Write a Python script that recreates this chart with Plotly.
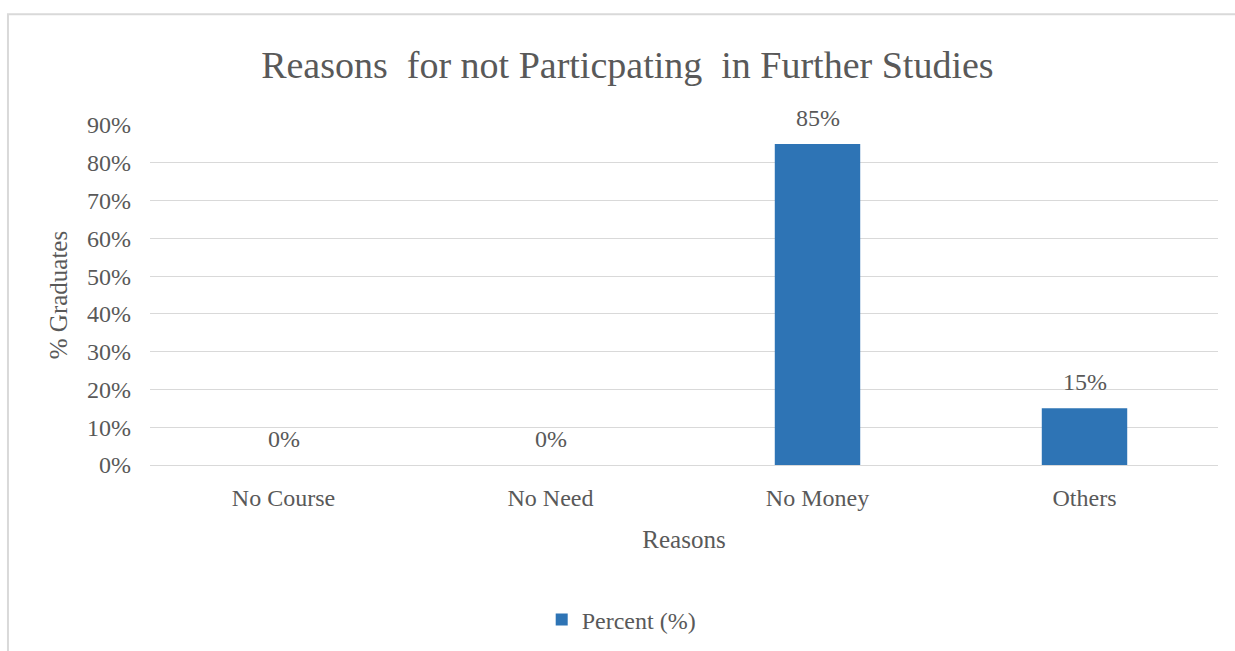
import plotly.graph_objects as go

# Survey results
reasons = ["No Course", "No Need", "No Money", "Others"]
percent = [0.0, 0.0, 0.85, 0.15]
value_labels = ["0%", "0%", "85%", "15%"]
y_ticks = [0, 0.1, 0.2, 0.3, 0.4, 0.5, 0.6, 0.7, 0.8, 0.9]
y_tick_labels = ["0%", "10%", "20%", "30%", "40%", "50%", "60%", "70%", "80%", "90%"]

FONT = "Liberation Serif"
TEXT = "#595959"
GRID = "#d9d9d9"
BAR = "#2E74B5"

fig = go.Figure()
fig.add_trace(go.Bar(
    x=reasons,
    y=percent,
    name="Percent (%)",
    marker=dict(color=BAR, line=dict(width=0)),
    showlegend=True,
))

# value labels above each bar
for cat, val, lab in zip(reasons, percent, value_labels):
    fig.add_annotation(
        x=cat, y=val, text=lab, showarrow=False,
        xref="x", yref="y", yanchor="bottom", yshift=11,
        font=dict(family=FONT, size=24, color=TEXT),
    )

# light chart frame
fig.add_shape(
    type="rect", xref="paper", yref="paper",
    x0=-0.133, x1=1.04, y0=-0.7, y1=1.326,
    line=dict(color=GRID, width=2), fillcolor="rgba(0,0,0,0)", layer="below",
)

fig.update_layout(
    width=1235, height=651,
    margin=dict(l=150, r=17, t=125, b=186),
    paper_bgcolor="white", plot_bgcolor="white",
    bargap=0.68,
    font=dict(family=FONT, size=24, color=TEXT),
    title=dict(
        text="Reasons  for not Particpating  in Further Studies",
        x=0.508, xanchor="center", xref="container",
        y=1 - 65 / 651, yanchor="middle", yref="container",
        font=dict(family=FONT, size=38, color=TEXT),
    ),
    xaxis=dict(
        title=dict(text="Reasons", standoff=20, font=dict(family=FONT, size=25, color=TEXT)),
        showgrid=False, showline=False, zeroline=False,
        ticks="", ticklabelstandoff=16,
        tickfont=dict(family=FONT, size=24, color=TEXT),
    ),
    yaxis=dict(
        title=dict(text="% Graduates", standoff=12, font=dict(family=FONT, size=25, color=TEXT)),
        range=[0, 0.9],
        tickvals=y_ticks, ticktext=y_tick_labels,
        showgrid=True, gridcolor=GRID, gridwidth=1,
        zeroline=True, zerolinecolor=GRID, zerolinewidth=1,
        showline=False, ticks="", ticklabelstandoff=18,
        tickfont=dict(family=FONT, size=24, color=TEXT),
    ),
    legend=dict(
        orientation="h",
        xref="container", yref="container",
        x=0.503, xanchor="center",
        y=1 - 620 / 651, yanchor="middle",
        font=dict(family=FONT, size=24, color=TEXT),
        itemwidth=30,
        bgcolor="rgba(0,0,0,0)",
    ),
)

fig.write_html("out.html")
